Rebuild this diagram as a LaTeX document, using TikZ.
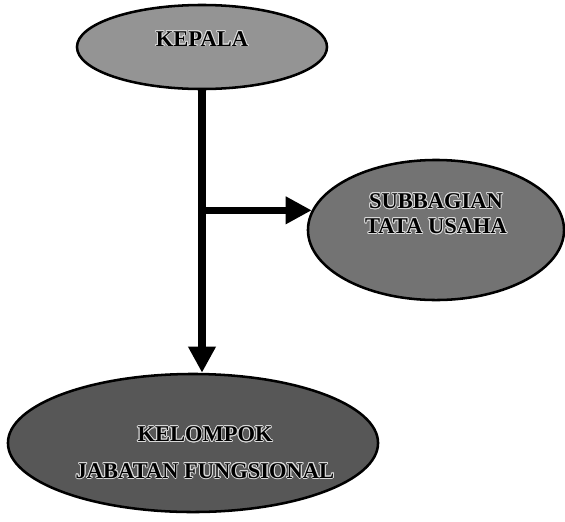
\documentclass[tikz,border=0pt]{standalone}
\usepackage{fontspec}
\setmainfont{Liberation Serif}
\usepackage{contour}
\contourlength{0.6pt}
\usetikzlibrary{shapes.geometric, positioning, arrows.meta}
\tikzset{
  unit/.style={ellipse, draw=black, line width=1.8pt},
  unittext/.style={font=\fontsize{16}{20}\selectfont\bfseries, text=black, align=center},
  arrow/.style={line width=5pt, -{Triangle[length=6.5mm, width=6.5mm]}}
}
\newcommand{\halo}[1]{\contour{black!15}{#1}}
\begin{document}
\begin{tikzpicture}[x=0.025cm, y=-0.025cm]
    \useasboundingbox (0,0) rectangle (565,521);

    % 1. Bagan unit
    \node[unit, fill=black!42, minimum width=6.25cm, minimum height=2.1cm] (kepala) at (202,47) {};
    \node[unit, fill=black!55, minimum width=6.4cm, minimum height=3.5cm] (subbag) at (436,230) {};
    \node[unit, fill=black!66, minimum width=9.25cm, minimum height=3.45cm] (kelompok) at (193,443) {};

    % 2. Teks
    \node[unittext] (kepala-txt) at (202,39) {\halo{KEPALA}};
    \node[unittext] (subbag-txt) at (436,214) {\halo{SUBBAGIAN}\\[-2pt]\halo{TATA USAHA}};
    \node[unittext] (kelompok-txt) at (205,453) {\halo{KELOMPOK}\\[6pt]\halo{JABATAN FUNGSIONAL}};

    % 3. Garis komando
    \coordinate (cabang) at (kepala.south |- subbag.171);
    \draw[arrow] (kepala.south) -- (kepala.south |- kelompok.north);
    \draw[arrow] (cabang) -- (subbag.171);

\end{tikzpicture}
\end{document}
